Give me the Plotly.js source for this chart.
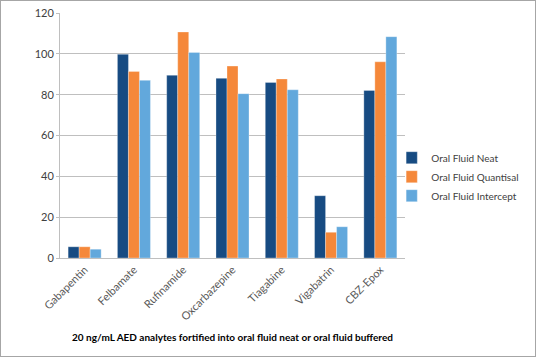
<!DOCTYPE html>
<html><head><meta charset="utf-8">
<script src="https://cdn.plot.ly/plotly-3.0.1.min.js"></script>
<style>
html,body{margin:0;padding:0;background:#fff;}
#frame{width:534px;height:355px;border:1px solid #a6a6a6;}
#chart{width:534px;height:355px;}
</style></head>
<body><div id="frame"><div id="chart"></div></div>
<script>
const categories = ["Gabapentin","Felbamate","Rufinamide","Oxcarbazepine","Tiagabine","Vigabatrin","CBZ-Epox"];
const seriesNames = ["Oral Fluid Neat","Oral Fluid Quantisal","Oral Fluid Intercept"];
const neat      = [5.5, 99.8, 89.5, 88.0, 86.0, 30.5, 82.1];
const quantisal = [5.5, 91.4, 110.7, 94.0, 87.7, 12.6, 96.1];
const intercept = [4.3, 87.0, 100.7, 80.5, 82.4, 15.3, 108.4];
const yTicks = [0,20,40,60,80,100,120];
const xTitle = "20 ng/mL AED analytes fortified into oral fluid neat or oral fluid buffered";

const colors = ["#174b82","#f5883a","#62a8dc"];
const values = [neat, quantisal, intercept];
const font = "Lato, 'Open Sans', sans-serif";

const data = values.map((v,i)=>({
  type:"bar", name:seriesNames[i], x:categories, y:v,
  marker:{color:colors[i], line:{color:"rgba(255,255,255,0.6)", width:0.5}}
}));

const layout = {
  width:534, height:355,
  margin:{l:59, r:130, t:12, b:98},
  paper_bgcolor:"#fff", plot_bgcolor:"#fff",
  barmode:"group", bargap:0.33, bargroupgap:0,
  font:{family:font, size:10, color:"#404040"},
  showlegend:true,
  legend:{xref:"container", yref:"container", x:0.759, xanchor:"left", y:0.505, yanchor:"middle",
          indentation:-15, itemwidth:30,
          font:{family:font, size:10, color:"#404040"}, tracegroupgap:0},
  xaxis:{
    tickangle:-45, tickfont:{family:font, size:11, color:"#595959"},
    showline:true, linecolor:"#bfbfbf", linewidth:1, ticks:"",
    title:{text:xTitle, font:{family:font, size:10, color:"#000", weight:"bold"}, standoff:12},
    automargin:false
  },
  yaxis:{
    range:[0,120], tickvals:yTicks, ticktext:yTicks.map(String),
    showgrid:true, gridcolor:"#bfbfbf", gridwidth:1,
    showline:true, linecolor:"#bfbfbf", linewidth:1,
    ticks:"outside", ticklen:3, tickcolor:"#bfbfbf",
    tickfont:{family:font, size:11, color:"#404040"},
    zeroline:false, automargin:false
  }
};
Plotly.newPlot("chart", data, layout, {displayModeBar:false, staticPlot:true});
</script></body></html>
